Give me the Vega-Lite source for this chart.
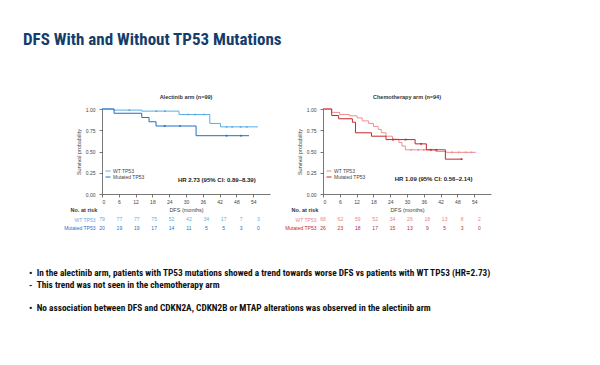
{
  "$schema": "https://vega.github.io/schema/vega-lite/v6.json",
  "background": "white",
  "padding": {"left": 22, "top": 30, "right": 5, "bottom": 5},
  "title": {
    "text": "DFS With and Without TP53 Mutations",
    "anchor": "start",
    "frame": "bounds",
    "dx": -6,
    "font": "Roboto Condensed, Liberation Sans Narrow, Arial Narrow, sans-serif",
    "fontSize": 17,
    "fontWeight": "bold",
    "color": "#143d6b",
    "offset": 46
  },
  "config": {
    "view": {"stroke": null},
    "font": "Liberation Sans, Arial, sans-serif",
    "axis": {
      "grid": false,
      "domainColor": "#555",
      "tickColor": "#555",
      "labelColor": "#444",
      "titleColor": "#444",
      "labelFontSize": 5,
      "titleFontSize": 5.5,
      "titleFontWeight": "normal",
      "tickSize": 3,
      "domainWidth": 0.8,
      "tickWidth": 0.8,
      "labelOverlap": false
    }
  },
  "datasets": {
    "km": [
      {"arm": "A", "group": "WT TP53", "t": 0, "s": 1},
      {"arm": "A", "group": "WT TP53", "t": 4.3, "s": 0.987},
      {"arm": "A", "group": "WT TP53", "t": 14.2, "s": 0.975},
      {"arm": "A", "group": "WT TP53", "t": 27.5, "s": 0.935},
      {"arm": "A", "group": "WT TP53", "t": 38.5, "s": 0.83},
      {"arm": "A", "group": "WT TP53", "t": 42.3, "s": 0.79},
      {"arm": "A", "group": "WT TP53", "t": 55.7, "s": 0.79},
      {"arm": "A", "group": "Mutated TP53", "t": 0, "s": 1},
      {"arm": "A", "group": "Mutated TP53", "t": 4.3, "s": 0.95},
      {"arm": "A", "group": "Mutated TP53", "t": 14.2, "s": 0.9},
      {"arm": "A", "group": "Mutated TP53", "t": 16.8, "s": 0.85},
      {"arm": "A", "group": "Mutated TP53", "t": 19.3, "s": 0.8},
      {"arm": "A", "group": "Mutated TP53", "t": 33.6, "s": 0.686},
      {"arm": "A", "group": "Mutated TP53", "t": 52.5, "s": 0.686},
      {"arm": "C", "group": "WT TP53", "t": 0, "s": 1},
      {"arm": "C", "group": "WT TP53", "t": 3.1, "s": 0.96},
      {"arm": "C", "group": "WT TP53", "t": 5.9, "s": 0.935},
      {"arm": "C", "group": "WT TP53", "t": 9.4, "s": 0.92},
      {"arm": "C", "group": "WT TP53", "t": 12.2, "s": 0.895},
      {"arm": "C", "group": "WT TP53", "t": 14, "s": 0.86},
      {"arm": "C", "group": "WT TP53", "t": 16.3, "s": 0.83},
      {"arm": "C", "group": "WT TP53", "t": 18, "s": 0.795},
      {"arm": "C", "group": "WT TP53", "t": 19.7, "s": 0.76},
      {"arm": "C", "group": "WT TP53", "t": 20.8, "s": 0.72},
      {"arm": "C", "group": "WT TP53", "t": 22.5, "s": 0.68},
      {"arm": "C", "group": "WT TP53", "t": 24.8, "s": 0.645},
      {"arm": "C", "group": "WT TP53", "t": 27.1, "s": 0.605},
      {"arm": "C", "group": "WT TP53", "t": 28.2, "s": 0.565},
      {"arm": "C", "group": "WT TP53", "t": 29.4, "s": 0.52},
      {"arm": "C", "group": "WT TP53", "t": 40.3, "s": 0.5},
      {"arm": "C", "group": "WT TP53", "t": 44, "s": 0.49},
      {"arm": "C", "group": "WT TP53", "t": 54.6, "s": 0.49},
      {"arm": "C", "group": "Mutated TP53", "t": 0, "s": 1},
      {"arm": "C", "group": "Mutated TP53", "t": 3.1, "s": 0.923},
      {"arm": "C", "group": "Mutated TP53", "t": 5.6, "s": 0.885},
      {"arm": "C", "group": "Mutated TP53", "t": 10.5, "s": 0.845},
      {"arm": "C", "group": "Mutated TP53", "t": 11.6, "s": 0.72},
      {"arm": "C", "group": "Mutated TP53", "t": 17.3, "s": 0.68},
      {"arm": "C", "group": "Mutated TP53", "t": 22.5, "s": 0.64},
      {"arm": "C", "group": "Mutated TP53", "t": 32.9, "s": 0.59},
      {"arm": "C", "group": "Mutated TP53", "t": 36.9, "s": 0.52},
      {"arm": "C", "group": "Mutated TP53", "t": 43.7, "s": 0.41},
      {"arm": "C", "group": "Mutated TP53", "t": 49.5, "s": 0.41}
    ],
    "censor": [
      {"arm": "A", "group": "WT TP53", "t": 9.8, "s": 0.987},
      {"arm": "A", "group": "WT TP53", "t": 19.4, "s": 0.975},
      {"arm": "A", "group": "WT TP53", "t": 22.5, "s": 0.975},
      {"arm": "A", "group": "WT TP53", "t": 30.8, "s": 0.935},
      {"arm": "A", "group": "WT TP53", "t": 33.3, "s": 0.935},
      {"arm": "A", "group": "WT TP53", "t": 36.5, "s": 0.935},
      {"arm": "A", "group": "WT TP53", "t": 44.5, "s": 0.79},
      {"arm": "A", "group": "WT TP53", "t": 46.5, "s": 0.79},
      {"arm": "A", "group": "WT TP53", "t": 49.5, "s": 0.79},
      {"arm": "A", "group": "WT TP53", "t": 51.7, "s": 0.79},
      {"arm": "A", "group": "Mutated TP53", "t": 22.4, "s": 0.8},
      {"arm": "A", "group": "Mutated TP53", "t": 27.9, "s": 0.8},
      {"arm": "A", "group": "Mutated TP53", "t": 44.5, "s": 0.686},
      {"arm": "A", "group": "Mutated TP53", "t": 49.7, "s": 0.686},
      {"arm": "C", "group": "WT TP53", "t": 31.5, "s": 0.52},
      {"arm": "C", "group": "WT TP53", "t": 34, "s": 0.52},
      {"arm": "C", "group": "WT TP53", "t": 36, "s": 0.52},
      {"arm": "C", "group": "WT TP53", "t": 38.5, "s": 0.52},
      {"arm": "C", "group": "WT TP53", "t": 46, "s": 0.49},
      {"arm": "C", "group": "WT TP53", "t": 48.5, "s": 0.49},
      {"arm": "C", "group": "WT TP53", "t": 51, "s": 0.49},
      {"arm": "C", "group": "WT TP53", "t": 53, "s": 0.49},
      {"arm": "C", "group": "Mutated TP53", "t": 25, "s": 0.64},
      {"arm": "C", "group": "Mutated TP53", "t": 29.5, "s": 0.64},
      {"arm": "C", "group": "Mutated TP53", "t": 35, "s": 0.59},
      {"arm": "C", "group": "Mutated TP53", "t": 38.5, "s": 0.52},
      {"arm": "C", "group": "Mutated TP53", "t": 40.5, "s": 0.52},
      {"arm": "C", "group": "Mutated TP53", "t": 49.5, "s": 0.41}
    ],
    "risk": [
      {"arm": "A", "group": "WT TP53", "t": 0, "n": 79},
      {"arm": "A", "group": "WT TP53", "t": 6, "n": 77},
      {"arm": "A", "group": "WT TP53", "t": 12, "n": 77},
      {"arm": "A", "group": "WT TP53", "t": 18, "n": 75},
      {"arm": "A", "group": "WT TP53", "t": 24, "n": 52},
      {"arm": "A", "group": "WT TP53", "t": 30, "n": 42},
      {"arm": "A", "group": "WT TP53", "t": 36, "n": 34},
      {"arm": "A", "group": "WT TP53", "t": 42, "n": 17},
      {"arm": "A", "group": "WT TP53", "t": 48, "n": 7},
      {"arm": "A", "group": "WT TP53", "t": 54, "n": 3},
      {"arm": "A", "group": "Mutated TP53", "t": 0, "n": 20},
      {"arm": "A", "group": "Mutated TP53", "t": 6, "n": 19},
      {"arm": "A", "group": "Mutated TP53", "t": 12, "n": 19},
      {"arm": "A", "group": "Mutated TP53", "t": 18, "n": 17},
      {"arm": "A", "group": "Mutated TP53", "t": 24, "n": 14},
      {"arm": "A", "group": "Mutated TP53", "t": 30, "n": 11},
      {"arm": "A", "group": "Mutated TP53", "t": 36, "n": 5},
      {"arm": "A", "group": "Mutated TP53", "t": 42, "n": 5},
      {"arm": "A", "group": "Mutated TP53", "t": 48, "n": 3},
      {"arm": "A", "group": "Mutated TP53", "t": 54, "n": 0},
      {"arm": "C", "group": "WT TP53", "t": 0, "n": 68},
      {"arm": "C", "group": "WT TP53", "t": 6, "n": 62},
      {"arm": "C", "group": "WT TP53", "t": 12, "n": 59},
      {"arm": "C", "group": "WT TP53", "t": 18, "n": 52},
      {"arm": "C", "group": "WT TP53", "t": 24, "n": 34},
      {"arm": "C", "group": "WT TP53", "t": 30, "n": 26},
      {"arm": "C", "group": "WT TP53", "t": 36, "n": 18},
      {"arm": "C", "group": "WT TP53", "t": 42, "n": 13},
      {"arm": "C", "group": "WT TP53", "t": 48, "n": 8},
      {"arm": "C", "group": "WT TP53", "t": 54, "n": 2},
      {"arm": "C", "group": "Mutated TP53", "t": 0, "n": 26},
      {"arm": "C", "group": "Mutated TP53", "t": 6, "n": 23},
      {"arm": "C", "group": "Mutated TP53", "t": 12, "n": 18},
      {"arm": "C", "group": "Mutated TP53", "t": 18, "n": 17},
      {"arm": "C", "group": "Mutated TP53", "t": 24, "n": 15},
      {"arm": "C", "group": "Mutated TP53", "t": 30, "n": 13},
      {"arm": "C", "group": "Mutated TP53", "t": 36, "n": 9},
      {"arm": "C", "group": "Mutated TP53", "t": 42, "n": 5},
      {"arm": "C", "group": "Mutated TP53", "t": 48, "n": 3},
      {"arm": "C", "group": "Mutated TP53", "t": 54, "n": 0}
    ],
    "bullets": [
      {"line": 1, "text": "•\u00a0\u00a0In the alectinib arm, patients with TP53 mutations showed a trend towards worse DFS vs patients with WT TP53 (HR=2.73)"},
      {"line": 2, "text": "\u00a0-\u00a0\u00a0This trend was not seen in the chemotherapy arm"},
      {"line": 4, "text": "•\u00a0\u00a0No association between DFS and CDKN2A, CDKN2B or MTAP alterations was observed in the alectinib arm"}
    ]
  },
  "spacing": 37,
  "vconcat": [
    {
      "spacing": 14,
      "resolve": {"scale": {"color": "independent"}},
      "hconcat": [
        {
          "bounds": "flush",
          "spacing": 21,
          "resolve": {"scale": {"color": "independent"}},
          "vconcat": [
            {
              "width": 168,
              "height": 85,
              "title": {"text": "Alectinib arm (n=99)", "fontSize": 5.5, "fontWeight": "bold", "color": "#333", "offset": 7},
              "layer": [
                {
                  "data": {"name": "km"},
                  "transform": [{"filter": "datum.arm == 'A'"}],
                  "mark": {"type": "line", "interpolate": "step-after", "strokeWidth": 1},
                  "encoding": {
                    "x": {"field": "t", "type": "quantitative", "scale": {"domain": [0, 58]},
                      "axis": {"values": [0, 6, 12, 18, 24, 30, 36, 42, 48, 54], "tickCount": 20, "labelOverlap": false, "title": "DFS (months)", "labelPadding": 2, "titlePadding": 3}},
                    "y": {"field": "s", "type": "quantitative", "scale": {"domain": [0, 1]},
                      "axis": {"values": [0, 0.25, 0.5, 0.75, 1], "tickCount": 20, "labelOverlap": false, "format": ".2f", "title": "Survival probability", "labelPadding": 4, "titlePadding": 4}},
                    "color": {"field": "group", "type": "nominal",
                      "scale": {"domain": ["WT TP53", "Mutated TP53"], "range": ["#5aaee6", "#1f6fc5"]},
                      "legend": {"title": null, "orient": "none", "legendX": 3, "legendY": 59, "padding": 0, "rowPadding": 0,
                        "symbolType": "stroke", "symbolSize": 25, "symbolStrokeWidth": 1, "labelFontSize": 5, "labelOffset": 2, "labelColor": "#444"}}
                  }
                },
                {
                  "data": {"name": "censor"},
                  "transform": [{"filter": "datum.arm == 'A'"}],
                  "mark": {"type": "point", "shape": "square", "filled": true, "size": 3, "opacity": 1},
                  "encoding": {
                    "x": {"field": "t", "type": "quantitative"},
                    "y": {"field": "s", "type": "quantitative"},
                    "color": {"field": "group", "type": "nominal"}
                  }
                },
                {
                  "data": {"values": [{}]},
                  "mark": {"type": "text", "fontSize": 6, "fontWeight": "bold", "color": "#222"},
                  "encoding": {
                    "x": {"datum": 41, "type": "quantitative"},
                    "y": {"datum": 0.165, "type": "quantitative"},
                    "text": {"value": "HR 2.73 (95% CI: 0.89–8.39)"}
                  }
                }
              ]
            },
            {
              "width": 168,
              "height": 17,
              "title": {"text": "No. at risk", "anchor": "start", "frame": "bounds", "dx": 7, "fontSize": 5.5, "fontWeight": "bold", "color": "#333", "offset": 2},
              "data": {"name": "risk"},
              "transform": [{"filter": "datum.arm == 'A'"}],
              "mark": {"type": "text", "fontSize": 5},
              "encoding": {
                "x": {"field": "t", "type": "quantitative", "scale": {"domain": [0, 58]}, "axis": null},
                "y": {"field": "group", "type": "nominal", "sort": ["WT TP53", "Mutated TP53"],
                  "axis": {"title": null, "domain": false, "ticks": false, "labelFontSize": 5, "labelPadding": 7,
                    "labelColor": {"condition": {"test": "datum.value == 'WT TP53'", "value": "#5aaee6"}, "value": "#1f6fc5"}}},
                "text": {"field": "n", "type": "quantitative"},
                "color": {"field": "group", "type": "nominal",
                  "scale": {"domain": ["WT TP53", "Mutated TP53"], "range": ["#5aaee6", "#1f6fc5"]}, "legend": null}
              }
            }
          ]
        },
        {
          "bounds": "flush",
          "spacing": 21,
          "resolve": {"scale": {"color": "independent"}},
          "vconcat": [
            {
              "width": 168,
              "height": 85,
              "title": {"text": "Chemotherapy arm (n=94)", "fontSize": 5.5, "fontWeight": "bold", "color": "#333", "offset": 7},
              "layer": [
                {
                  "data": {"name": "km"},
                  "transform": [{"filter": "datum.arm == 'C'"}],
                  "mark": {"type": "line", "interpolate": "step-after", "strokeWidth": 1},
                  "encoding": {
                    "x": {"field": "t", "type": "quantitative", "scale": {"domain": [0, 58]},
                      "axis": {"values": [0, 6, 12, 18, 24, 30, 36, 42, 48, 54], "tickCount": 20, "labelOverlap": false, "title": "DFS (months)", "labelPadding": 2, "titlePadding": 3}},
                    "y": {"field": "s", "type": "quantitative", "scale": {"domain": [0, 1]},
                      "axis": {"values": [0, 0.25, 0.5, 0.75, 1], "tickCount": 20, "labelOverlap": false, "format": ".2f", "title": "Survival probability", "labelPadding": 4, "titlePadding": 4}},
                    "color": {"field": "group", "type": "nominal",
                      "scale": {"domain": ["WT TP53", "Mutated TP53"], "range": ["#ef8f8f", "#c3262e"]},
                      "legend": {"title": null, "orient": "none", "legendX": 3, "legendY": 59, "padding": 0, "rowPadding": 0,
                        "symbolType": "stroke", "symbolSize": 25, "symbolStrokeWidth": 1, "labelFontSize": 5, "labelOffset": 2, "labelColor": "#444"}}
                  }
                },
                {
                  "data": {"name": "censor"},
                  "transform": [{"filter": "datum.arm == 'C'"}],
                  "mark": {"type": "point", "shape": "square", "filled": true, "size": 3, "opacity": 1},
                  "encoding": {
                    "x": {"field": "t", "type": "quantitative"},
                    "y": {"field": "s", "type": "quantitative"},
                    "color": {"field": "group", "type": "nominal"}
                  }
                },
                {
                  "data": {"values": [{}]},
                  "mark": {"type": "text", "fontSize": 6, "fontWeight": "bold", "color": "#222"},
                  "encoding": {
                    "x": {"datum": 39.5, "type": "quantitative"},
                    "y": {"datum": 0.173, "type": "quantitative"},
                    "text": {"value": "HR 1.09 (95% CI: 0.56–2.14)"}
                  }
                }
              ]
            },
            {
              "width": 168,
              "height": 17,
              "title": {"text": "No. at risk", "anchor": "start", "frame": "bounds", "dx": 7, "fontSize": 5.5, "fontWeight": "bold", "color": "#333", "offset": 2},
              "data": {"name": "risk"},
              "transform": [{"filter": "datum.arm == 'C'"}],
              "mark": {"type": "text", "fontSize": 5},
              "encoding": {
                "x": {"field": "t", "type": "quantitative", "scale": {"domain": [0, 58]}, "axis": null},
                "y": {"field": "group", "type": "nominal", "sort": ["WT TP53", "Mutated TP53"],
                  "axis": {"title": null, "domain": false, "ticks": false, "labelFontSize": 5, "labelPadding": 7,
                    "labelColor": {"condition": {"test": "datum.value == 'WT TP53'", "value": "#ef7f80"}, "value": "#c3262e"}}},
                "text": {"field": "n", "type": "quantitative"},
                "color": {"field": "group", "type": "nominal",
                  "scale": {"domain": ["WT TP53", "Mutated TP53"], "range": ["#ef7f80", "#c3262e"]}, "legend": null}
              }
            }
          ]
        }
      ]
    },
    {
      "width": 500,
      "height": 35,
      "data": {"name": "bullets"},
      "mark": {"type": "text", "align": "left", "baseline": "middle", "font": "Roboto Condensed, Liberation Sans Narrow, Arial Narrow, sans-serif", "fontSize": 9.3, "fontWeight": "bold", "color": "#111"},
      "encoding": {
        "x": {"datum": 0, "type": "quantitative", "scale": {"domain": [0.1274, 1]}, "axis": null},
        "y": {"field": "line", "type": "quantitative", "scale": {"domain": [1, 4], "reverse": true}, "axis": null},
        "text": {"field": "text"}
      }
    }
  ]
}
